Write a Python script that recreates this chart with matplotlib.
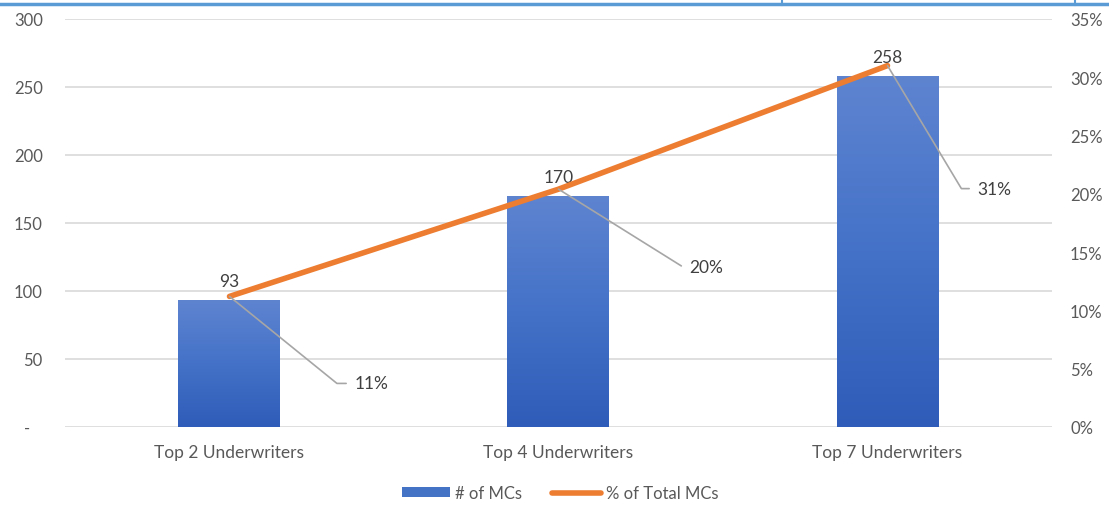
import numpy as np
import matplotlib
matplotlib.use('Agg')
import matplotlib.pyplot as plt
from matplotlib.patches import Patch
from matplotlib.lines import Line2D
from matplotlib.colors import LinearSegmentedColormap

# data
categories = ['Top 2 Underwriters', 'Top 4 Underwriters', 'Top 7 Underwriters']
mc_counts = [93, 170, 258]
pct_total = [0.112, 0.204, 0.31]
pct_labels = ['11%', '20%', '31%']
left_ticks = [0, 50, 100, 150, 200, 250, 300]
left_labels = ['-   ', '50', '100', '150', '200', '250', '300']
right_ticks = [0, 0.05, 0.10, 0.15, 0.20, 0.25, 0.30, 0.35]
right_labels = ['0%', '5%', '10%', '15%', '20%', '25%', '30%', '35%']

plt.rcParams['font.family'] = ['Lato', 'DejaVu Sans']
txt = '#595959'
orange = '#ED7D31'

fig = plt.figure(figsize=(11.09, 5.06), dpi=100)
ax = fig.add_axes([0.0586, 0.1542, 0.89, 0.8063])
ax2 = ax.twinx()

x = np.arange(len(categories))
bars = ax.bar(x, mc_counts, width=0.31, color='#4472C4', zorder=2)

# vertical gradient inside each bar
grad = LinearSegmentedColormap.from_list('g', ['#2E5CB8', '#4472C8', '#5E84D0'])
for b in bars:
    b.set_facecolor('none')
    x0, y0 = b.get_x(), b.get_y()
    w, h = b.get_width(), b.get_height()
    im = ax.imshow(np.linspace(0, 1, 256).reshape(-1, 1), cmap=grad, origin='lower',
                   extent=[x0, x0 + w, y0, y0 + h], aspect='auto', zorder=2)
    im.set_clip_path(b)

ax.set_xlim(-0.5, 2.5)
ax.set_ylim(0, 300)
ax.set_yticks(left_ticks)
ax.set_yticklabels(left_labels)
ax.set_xticks(x)
ax.set_xticklabels(categories, fontsize=12.5, color=txt)
ax.tick_params(axis='both', length=0, labelsize=12, labelcolor=txt)
ax.tick_params(axis='x', pad=12, labelsize=12.5)
ax.tick_params(axis='y', pad=16)
ax.grid(axis='y', color='#d9d9d9', linewidth=1.2)
ax.set_axisbelow(True)
for s in ax.spines.values():
    s.set_visible(False)

for xi, v in zip(x, mc_counts):
    ax.annotate(str(v), (xi, v), xytext=(0, 8), textcoords='offset points',
                ha='center', va='bottom', fontsize=12.5, color='#404040')

ax2.plot(x, pct_total, color=orange, linewidth=4, solid_capstyle='round', zorder=3)
ax2.set_ylim(0, 0.35)
ax2.set_yticks(right_ticks)
ax2.set_yticklabels(right_labels)
ax2.tick_params(axis='y', length=0, labelsize=12, labelcolor=txt, pad=13)
for s in ax2.spines.values():
    s.set_visible(False)

# percentage labels with leader lines
offsets = [(125, -87, -39), (131, -78, -32), (90, -123, -59)]
for xi, p, lab, (dx, dy, ang) in zip(x, pct_total, pct_labels, offsets):
    ax2.annotate(lab, (xi, p), xytext=(dx, dy), textcoords='offset pixels',
                 ha='left', va='center', fontsize=12.5, color='#404040',
                 arrowprops=dict(arrowstyle='-', color='#a6a6a6', lw=1.2,
                                 shrinkA=4, shrinkB=0, relpos=(0, 0.5),
                                 connectionstyle='angle,angleA=0,angleB=%d,rad=0' % ang))

handles = [Patch(facecolor='#4472C4', edgecolor='none'),
           Line2D([0], [0], color=orange, linewidth=4, solid_capstyle='round')]
fig.legend(handles, ['# of MCs', '% of Total MCs'], loc='lower center',
           bbox_to_anchor=(0.505, -0.022), ncol=2, frameon=False, fontsize=12,
           labelcolor=txt, handlelength=2.9, handleheight=0.55, columnspacing=1.8,
           handletextpad=0.3)

# window border strip at the top of the screenshot
fig.add_artist(Line2D([0, 1], [1 - 4.5 / 506] * 2, color='#5B9BD5', linewidth=2.5,
                      transform=fig.transFigure))
for xp in [782, 1075]:
    fig.add_artist(Line2D([xp / 1109] * 2, [1, 1 - 6 / 506], color='#5B9BD5',
                          linewidth=1.5, transform=fig.transFigure))

fig.savefig('out.png', dpi=100)
